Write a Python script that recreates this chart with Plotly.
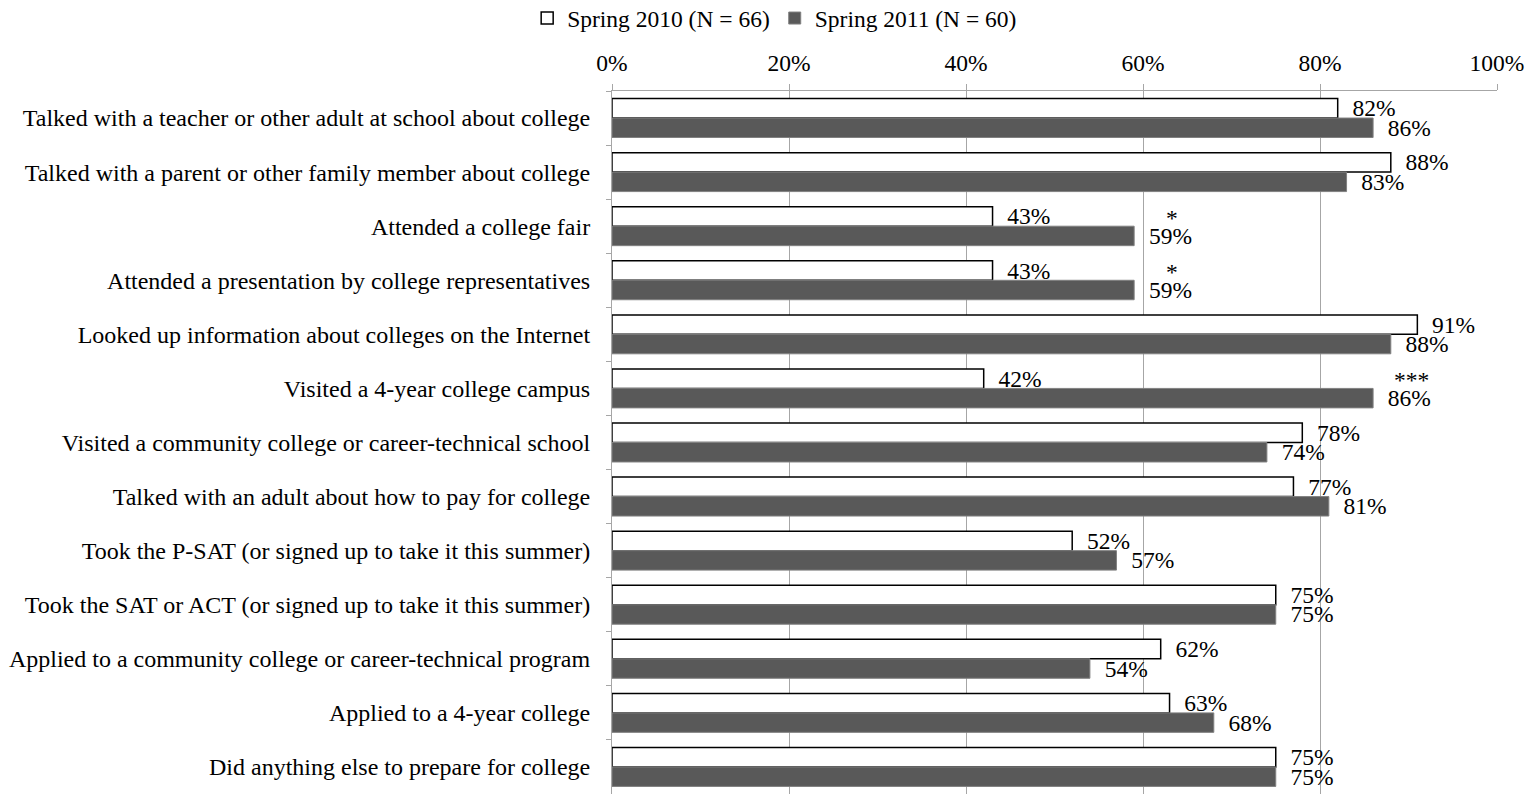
import plotly.graph_objects as go

categories = [
    "Talked with a teacher or other adult at school about college",
    "Talked with a parent or other family member about college",
    "Attended a college fair",
    "Attended a presentation by college representatives",
    "Looked up information about colleges on the Internet",
    "Visited a 4-year college campus",
    "Visited a community college or career-technical school",
    "Talked with an adult about how to pay for college",
    "Took the P-SAT (or signed up to take it this summer)",
    "Took the SAT or ACT (or signed up to take it this summer)",
    "Applied to a community college or career-technical program",
    "Applied to a 4-year college",
    "Did anything else to prepare for college",
]
spring_2010 = [82, 88, 43, 43, 91, 42, 78, 77, 52, 75, 62, 63, 75]
spring_2011 = [86, 83, 59, 59, 88, 86, 74, 81, 57, 75, 54, 68, 75]
significance = ["", "", "*", "*", "", "***", "", "", "", "", "", "", ""]

FONT = "Liberation Serif, Times New Roman, serif"
GRID = "#a6a6a6"
SIZE = 23.5
PAD = "\u00a0\u00a0"  # small gap between bar end and value label

fig = go.Figure()
fig.add_trace(go.Bar(
    name="Spring 2010 (N = 66)", y=categories, x=spring_2010, orientation="h",
    marker=dict(color="white", line=dict(color="black", width=1.5)),
    text=[f"{PAD}{v}%" for v in spring_2010], textposition="outside",
    textfont=dict(family=FONT, size=SIZE, color="black"), cliponaxis=False,
))
fig.add_trace(go.Bar(
    name="Spring 2011 (N = 60)", y=categories, x=spring_2011, orientation="h",
    marker=dict(color="#595959", line=dict(color="#808080", width=1)),
    text=[f"{PAD}{v}%" for v in spring_2011], textposition="outside",
    textfont=dict(family=FONT, size=SIZE, color="black"), cliponaxis=False,
))

# significance markers above the Spring 2011 value labels
for cat, v, s in zip(categories, spring_2011, significance):
    if s:
        fig.add_annotation(x=v, y=cat, text=s, showarrow=False, xanchor="center",
                           yanchor="middle", xshift=38, yshift=8,
                           font=dict(family=FONT, size=SIZE, color="black"))

fig.update_layout(
    width=1534, height=794,
    margin=dict(l=612, r=37, t=91, b=0),
    paper_bgcolor="white", plot_bgcolor="white",
    barmode="group", bargap=0.28, bargroupgap=0,
    font=dict(family=FONT, size=SIZE, color="black"),
    legend=dict(orientation="h", xref="container", yref="container",
                x=0.505, y=0.977, xanchor="center", yanchor="middle",
                font=dict(family=FONT, size=SIZE, color="black"),
                itemwidth=30, tracegroupgap=0),
    showlegend=True,
)
fig.update_traces(constraintext="none")
fig.update_xaxes(side="top", range=[0, 100], dtick=20, ticksuffix="%",
                 showgrid=True, gridcolor=GRID, gridwidth=1,
                 showline=True, linecolor=GRID, linewidth=1,
                 ticks="outside", ticklen=6, tickcolor=GRID, ticklabelstandoff=4,
                 tickfont=dict(family=FONT, size=SIZE, color="black"),
                 zeroline=False, fixedrange=True)
fig.update_yaxes(autorange="reversed", showline=True, linecolor=GRID, linewidth=1,
                 ticks="outside", ticklen=5, tickcolor=GRID, tickson="boundaries",
                 ticklabelstandoff=16,
                 tickfont=dict(family=FONT, size=24, color="black"),
                 showgrid=False, fixedrange=True)

fig.write_html("out.html")
